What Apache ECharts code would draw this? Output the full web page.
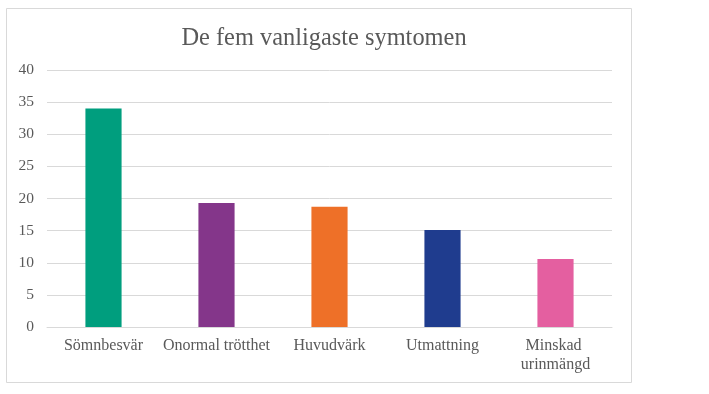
<!DOCTYPE html>
<html><head><meta charset="utf-8">
<script src="https://cdn.jsdelivr.net/npm/echarts@6/dist/echarts.min.js"></script>
<style>html,body{margin:0;padding:0;background:#fff}#c{width:709px;height:394px}</style>
</head><body><div id="c"></div>
<script>
const categories = ["Sömnbesvär", "Onormal trötthet", "Huvudvärk", "Utmattning", "Minskad urinmängd"];
const values = [34, 19.3, 18.7, 15.1, 10.6];
const barColors = ["#009E7E", "#84368A", "#EE7028", "#1F3C8E", "#E45FA0"];
const yTicks = [0, 5, 10, 15, 20, 25, 30, 35, 40];

const chart = echarts.init(document.getElementById('c'), null, {renderer: 'canvas'});
const font = "'Liberation Serif', 'Times New Roman', serif";
chart.setOption({
  animation: false,
  backgroundColor: '#fff',
  graphic: [{
    type: 'rect', shape: {x: 6.5, y: 8.5, width: 625, height: 374},
    style: {fill: 'none', stroke: '#d9d9d9', lineWidth: 1}, z: -1
  }],
  title: {
    text: 'De fem vanligaste symtomen', left: 319, top: 22, textAlign: 'center',
    textStyle: {fontFamily: font, fontSize: 24.4, fontWeight: 'normal', color: '#595959'}
  },
  grid: {left: 47, right: 97, top: 70, bottom: 67, containLabel: false},
  xAxis: {
    type: 'category', data: categories,
    axisLine: {lineStyle: {color: '#d9d9d9'}},
    axisTick: {show: false},
    axisLabel: {fontFamily: font, fontSize: 16, color: '#595959', margin: 9, interval: 0,
      width: 126, overflow: 'break', lineHeight: 19}
  },
  yAxis: {
    type: 'value', min: yTicks[0], max: yTicks[yTicks.length - 1], interval: 5,
    axisLine: {show: false}, axisTick: {show: false},
    splitLine: {lineStyle: {color: '#d9d9d9'}},
    axisLabel: {fontFamily: font, fontSize: 15.5, color: '#595959', margin: 13}
  },
  series: [{
    type: 'bar', barWidth: '32%',
    data: values.map((v, i) => ({value: v, itemStyle: {color: barColors[i]}}))
  }]
});
</script></body></html>
